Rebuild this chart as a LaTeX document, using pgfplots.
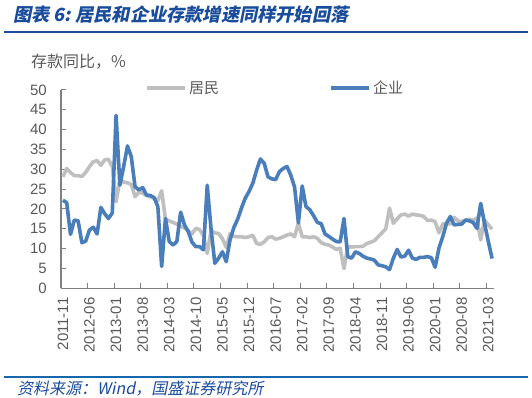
\documentclass[border=0pt]{standalone}
\usepackage{pgfplots}
\usepackage{pgfplotstable}
\pgfplotsset{compat=1.18}
\usepackage{fontspec}
\setmainfont{Liberation Sans}
\newfontfamily\cjk{Noto Sans CJK SC}
\newfontfamily\cjkit{Noto Sans CJK SC}[FakeSlant=0.2]
\definecolor{entblue}{HTML}{4A7EBB}
\definecolor{resgray}{HTML}{BFBFBF}
\definecolor{titleblue}{HTML}{1A4C9C}
\definecolor{txtgray}{HTML}{595959}
\definecolor{axgray}{HTML}{808080}
\pgfplotstableread{
i res ent
0 28.1 22.2
1 30.2 21.6
2 29.2 13.6
3 28.4 17.2
4 28.4 17.0
5 28.2 11.5
6 29.2 11.9
7 30.7 14.7
8 31.9 15.4
9 32.2 13.7
10 31.0 20.4
11 32.4 18.8
12 32.5 17.6
13 30.7 19.0
14 21.8 43.6
15 27.3 26.0
16 26.8 30.7
17 26.6 35.9
18 26.2 33.2
19 23.1 25.6
20 24.2 24.8
21 24.0 25.4
22 23.4 23.5
23 23.1 23.4
24 22.7 22.9
25 22.1 20.6
26 24.6 5.5
27 17.4 17.6
28 17.0 11.8
29 16.6 10.9
30 16.2 11.8
31 15.6 19.2
32 15.2 16.0
33 14.5 14.3
34 13.7 11.6
35 15.1 10.5
36 14.8 10.5
37 13.3 9.7
38 8.8 26.0
39 14.5 15.0
40 14.0 6.3
41 13.8 7.6
42 12.5 9.2
43 10.3 6.7
44 13.8 12.2
45 13.1 15.3
46 13.0 17.4
47 13.0 20.2
48 12.8 22.7
49 13.0 24.4
50 13.4 26.5
51 11.3 29.8
52 11.1 32.6
53 11.7 31.5
54 12.8 28.1
55 13.0 27.6
56 12.4 27.4
57 12.6 29.4
58 13.0 30.2
59 13.4 30.7
60 13.7 28.5
61 13.0 25.5
62 16.5 16.5
63 13.0 25.8
64 13.0 20.6
65 12.8 19.8
66 13.0 18.3
67 12.6 16.6
68 11.5 16.3
69 11.1 13.7
70 10.9 13.1
71 10.4 12.4
72 9.8 11.8
73 10.1 11.7
74 5.0 17.6
75 10.5 8.0
76 10.4 7.6
77 10.5 9.2
78 10.5 8.8
79 10.6 8.1
80 11.3 7.6
81 11.6 7.4
82 12.0 7.1
83 13.0 5.9
84 14.0 5.7
85 15.0 5.4
86 20.2 4.7
87 16.4 7.6
88 17.5 9.8
89 18.5 7.9
90 18.7 8.1
91 18.2 9.6
92 18.7 7.6
93 18.5 7.3
94 18.4 7.8
95 18.1 7.8
96 17.1 8.0
97 17.2 7.7
98 16.8 5.3
99 14.0 10.1
100 16.2 13.0
101 16.4 16.4
102 16.2 18.1
103 17.9 16.0
104 17.0 16.1
105 16.8 16.2
106 17.2 17.2
107 17.4 17.0
108 17.2 16.6
109 17.7 15.1
110 12.2 21.4
111 17.2 16.4
112 16.0 11.8
113 14.9 7.5
}\datatable
\begin{document}
\begin{tikzpicture}
\path (0pt,0pt) rectangle (532pt,398pt);
% title and rules
\node[anchor=west,inner sep=0pt,text=titleblue,font=\cjkit\bfseries\fontsize{18.2}{21}\selectfont] at (13pt,383pt) {图表 6:\ 居民和企业存款增速同样开始回落};
\draw[titleblue,line width=1.5pt] (4pt,366pt) -- (528pt,366pt);
\node[anchor=west,inner sep=0pt,text=txtgray,font=\cjk\fontsize{16}{19}\selectfont] at (31pt,336pt) {存款同比，\%};
\draw[titleblue!85!cyan,line width=1.2pt] (4pt,21pt) -- (528pt,21pt);
\node[anchor=west,inner sep=0pt,text=titleblue,font=\cjkit\fontsize{16}{19}\selectfont] at (17pt,9pt) {资料来源：Wind，国盛证券研究所};
\begin{axis}[
  at={(61pt,109.7pt)}, anchor=south west,
  scale only axis, width=433pt, height=198.3pt,
  xmin=-0.5, xmax=113.5, ymin=0, ymax=50,
  axis lines*=left,
  axis line style={axgray,line width=1.2pt,-},
  ytick={0,5,...,50},
  xtick={-0.5,6.5,...,113},
  xticklabels={},
  extra x ticks={0,7,...,112},
  extra x tick labels={2011-11,2012-06,2013-01,2013-08,2014-03,2014-10,2015-05,2015-12,2016-07,2017-02,2017-09,2018-04,2018-11,2019-06,2020-01,2020-08,2021-03},
  extra x tick style={major tick length=0pt},
  tick align=inside, major tick length=5pt,
  tick style={axgray,line width=1pt},
  /pgf/number format/assume math mode=true,
  yticklabel style={text=txtgray,font=\fontsize{15}{17}\selectfont,inner sep=0pt,anchor=east},
  yticklabel shift=14pt,
  xticklabel style={text=txtgray,font=\fontsize{15}{17}\selectfont,inner sep=0pt,rotate=90,anchor=east},
  xticklabel shift=9pt,
  legend style={draw=none,fill=none,at={(0.194,1.01)},anchor=west,inner sep=0pt,
    font=\cjk\fontsize{15}{18}\selectfont,text=txtgray,
    /tikz/every even column/.append style={column sep=108pt}},
  legend columns=2,
  legend cell align=left,
  legend image code/.code={\draw[#1,line width=4pt] (0pt,0pt) -- (38pt,0pt);},
  clip=false,
]
\addplot[resgray,line width=3.6pt,line join=round] table[x=i,y=res]{\datatable};
\addlegendentry{居民}
\addplot[entblue,line width=3.6pt,line join=round] table[x=i,y=ent]{\datatable};
\addlegendentry{企业}
\end{axis}
\end{tikzpicture}
\end{document}
